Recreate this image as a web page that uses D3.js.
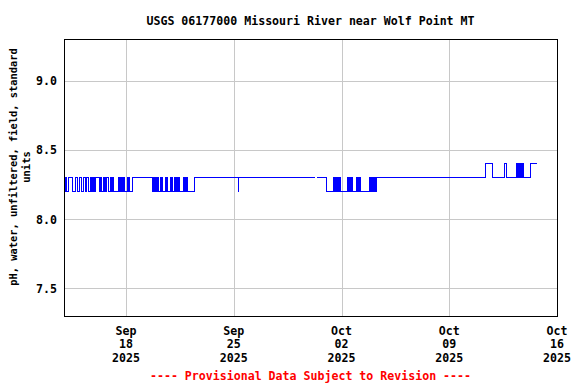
<!DOCTYPE html>
<html>
<head>
<meta charset="utf-8">
<script src="https://cdn.jsdelivr.net/npm/d3@7"></script>
<style>
  body { margin: 0; background: #fff; }
  text { font-family: "DejaVu Sans Mono", "Liberation Mono", monospace; font-weight: bold; }
</style>
</head>
<body>
<div id="chart"></div>
<script>
var width = 576, height = 384,
    plot = {left: 64, right: 557, top: 39, bottom: 316};

var title = "USGS 06177000 Missouri River near Wolf Point MT";
var yLabel = ["pH, water, unfiltered, field, standard", "units"];
var footer = "---- Provisional Data Subject to Revision ----";

var xTicks = ["2025-09-18", "2025-09-25", "2025-10-02", "2025-10-09", "2025-10-16"];
var xTickMonth = ["Sep", "Sep", "Oct", "Oct", "Oct"];
var xTickDay = ["18", "25", "02", "09", "16"];
var xTickYear = ["2025", "2025", "2025", "2025", "2025"];
var yTicks = [7.5, 8.0, 8.5, 9.0];
var yTickLabels = ["7.5", "8.0", "8.5", "9.0"];

var startDate = "2025-09-14", endDate = "2025-10-16";

// hourly pH readings, one string per day starting Sep 14 00:00
// "2" = 8.2, "3" = 8.3, "4" = 8.4, "-" = no reading
var hourlyPH = [
  "323222233333322223332222", // Sep 14
  "333222332233332223232332",
  "233333232322232323333223",
  "332322222222323232323222",
  "222323222233333333333333",
  "333333333333333332323232",
  "323222323222223232222232",
  "322232323232222223232323", // Sep 21
  "222222222223333333333333",
  "333333333333333333333333",
  "333333333333333333333333",
  "333333323333333333333333",
  "333333333333333333333333",
  "333333333333333333333333",
  "333333333333333333333333", // Sep 28
  "333333333333333333333333",
  "33333333-333333333333333",
  "222222222223232323232322",
  "222222222232323232222223",
  "232323222222222222223232",
  "323232333333333333333333",
  "333333333333333333333333", // Oct 05
  "333333333333333333333333",
  "333333333333333333333333",
  "333333333333333333333333",
  "333333333333333333333333",
  "333333333333333333333333",
  "333333334444444444433333",
  "333333333333334444333333", // Oct 12
  "333333333443434343443333",
  "333333344444444444"        // Oct 14
];
var codeValue = {"2": 8.2, "3": 8.3, "4": 8.4, "-": null};

var parseDay = d3.timeParse("%Y-%m-%d");
var t0 = parseDay(startDate);

var series = [];
hourlyPH.forEach(function(s, day) {
  s.split("").forEach(function(c, h) {
    series.push({t: d3.timeHour.offset(t0, day * 24 + h), v: codeValue[c]});
  });
});

var x = d3.scaleTime()
    .domain([t0, parseDay(endDate)])
    .range([plot.left + 0.5, plot.right]);

var y = d3.scaleLinear()
    .domain([7.3, 9.3])
    .range([plot.bottom, plot.top + 0.5]);

var svg = d3.select("#chart")
  .append("svg")
    .attr("width", width)
    .attr("height", height);

svg.append("rect")
    .attr("width", width)
    .attr("height", height)
    .style("fill", "#fff");

// grid
svg.selectAll(".vgrid")
    .data(xTicks.map(parseDay))
  .enter().append("line")
    .attr("x1", function(d){ return Math.round(x(d)) + 0.5; })
    .attr("x2", function(d){ return Math.round(x(d)) + 0.5; })
    .attr("y1", plot.top)
    .attr("y2", plot.bottom)
    .style("stroke", "#c8c8c8");

svg.selectAll(".hgrid")
    .data(yTicks)
  .enter().append("line")
    .attr("x1", plot.left)
    .attr("x2", plot.right)
    .attr("y1", function(d){ return Math.round(y(d)) + 0.5; })
    .attr("y2", function(d){ return Math.round(y(d)) + 0.5; })
    .style("stroke", "#c8c8c8");

// data line
var line = d3.line()
    .defined(function(d){ return d.v != null; })
    .x(function(d){ return x(d.t); })
    .y(function(d){ return y(d.v); })
    .curve(d3.curveStepAfter);

svg.append("path")
    .datum(series)
    .attr("d", line)
    .style("fill", "none")
    .style("stroke", "#0000ff")
    .style("stroke-width", 1)
    .style("shape-rendering", "crispEdges");

// frame
svg.append("rect")
    .attr("x", plot.left + 0.5)
    .attr("y", plot.top + 0.5)
    .attr("width", plot.right - plot.left)
    .attr("height", plot.bottom - plot.top)
    .style("fill", "none")
    .style("stroke", "#000");

// y tick labels
svg.selectAll(".ylab")
    .data(yTicks)
  .enter().append("text")
    .attr("x", 57)
    .attr("y", function(d){ return y(d) + 4.3; })
    .attr("text-anchor", "end")
    .style("font-size", "11.6px")
    .text(function(d, i){ return yTickLabels[i]; });

// x tick labels, three lines each
var xl = svg.selectAll(".xlab")
    .data(xTicks)
  .enter().append("text")
    .attr("text-anchor", "middle")
    .style("font-size", "11.6px")
    .attr("transform", function(d){ return "translate(" + x(parseDay(d)) + ",0)"; });
xl.append("tspan").attr("x", 0).attr("y", 334.5).text(function(d, i){ return xTickMonth[i]; });
xl.append("tspan").attr("x", 0).attr("y", 348).text(function(d, i){ return xTickDay[i]; });
xl.append("tspan").attr("x", 0).attr("y", 361.5).text(function(d, i){ return xTickYear[i]; });

// title
svg.append("text")
    .attr("x", 310.5)
    .attr("y", 25)
    .attr("text-anchor", "middle")
    .style("font-size", "11.6px")
    .text(title);

// y axis label
svg.selectAll(".ytitle")
    .data(yLabel)
  .enter().append("text")
    .attr("transform", function(d, i){ return "translate(" + (17 + i * 13) + ",167) rotate(-90)"; })
    .attr("text-anchor", "middle")
    .style("font-size", "10.4px")
    .text(function(d){ return d; });

// footer
svg.append("text")
    .attr("x", 310.5)
    .attr("y", 380)
    .attr("text-anchor", "middle")
    .style("font-size", "11.6px")
    .style("fill", "#ff0000")
    .text(footer);
</script>
</body>
</html>
